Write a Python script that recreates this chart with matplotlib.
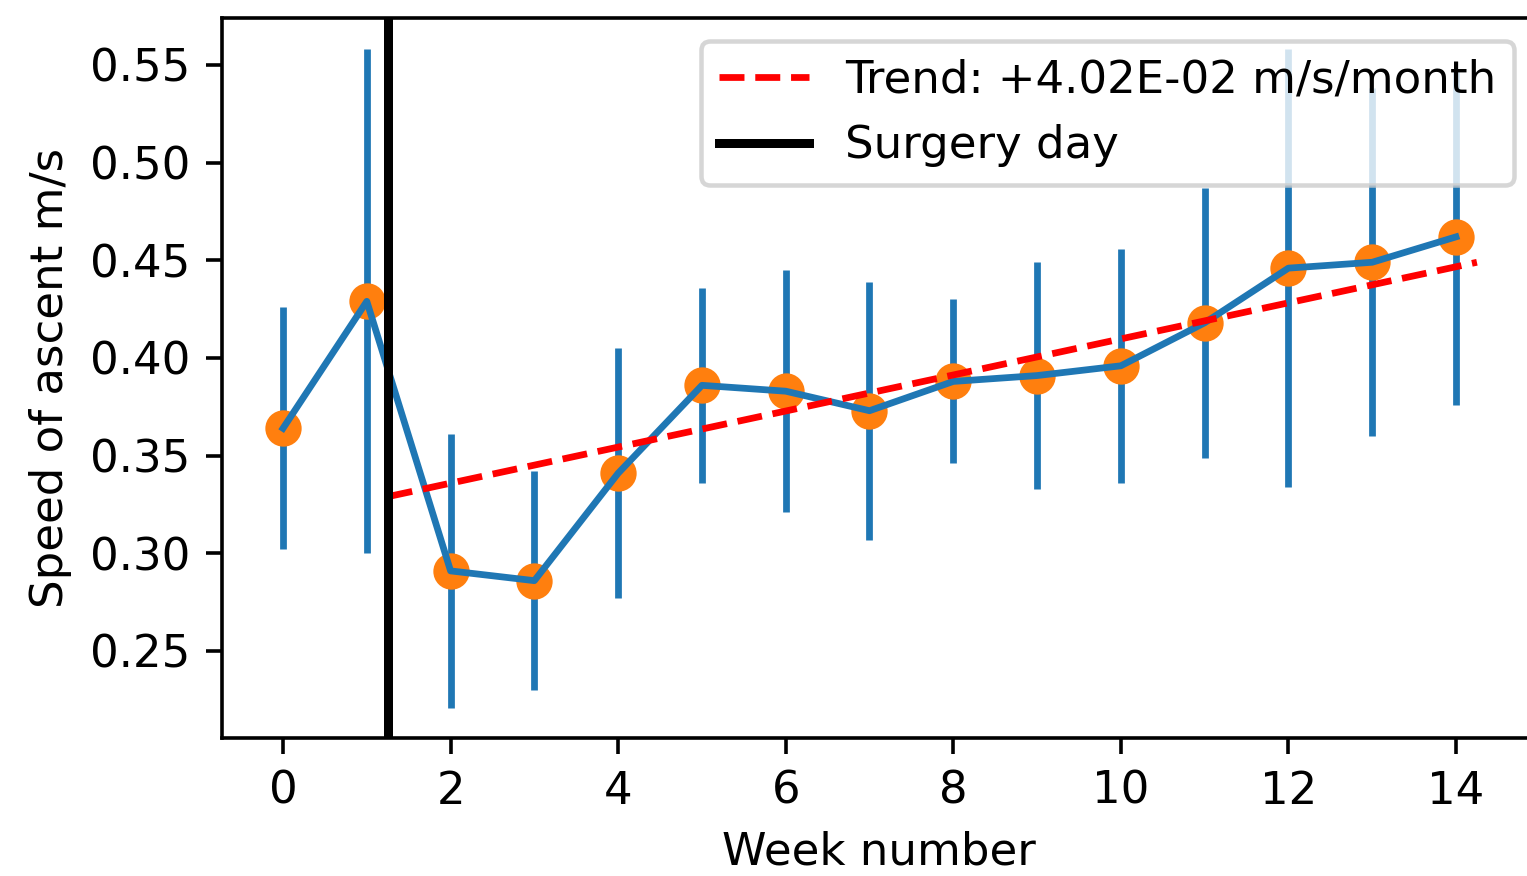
import numpy as np
import matplotlib
matplotlib.use("Agg")
import matplotlib.pyplot as plt

# weekly speed of ascent (mean and std)
weeks = [0, 1, 2, 3, 4, 5, 6, 7, 8, 9, 10, 11, 12, 13, 14]
speed = [0.364, 0.429, 0.291, 0.286, 0.341, 0.386, 0.383, 0.373,
         0.388, 0.391, 0.396, 0.418, 0.446, 0.449, 0.462]
speed_std = [0.062, 0.129, 0.070, 0.056, 0.064, 0.050, 0.062, 0.066,
             0.042, 0.058, 0.060, 0.069, 0.112, 0.089, 0.086]

# trend after surgery
trend_x = [1.25, 14.25]
trend_y = [0.329, 0.449]
trend_label = "Trend: +4.02E-02 m/s/month"

surgery_week = 1.25

W, H = 1528, 876
fig = plt.figure(figsize=(W / 324, H / 324), dpi=324)
ax = fig.add_axes([221.7 / W, 1 - 738.3 / H, (1536.4 - 221.7) / W, (738.3 - 18.3) / H])

ax.errorbar(weeks, speed, yerr=speed_std, fmt="none", ecolor="C0", elinewidth=1.5, zorder=1)
ax.scatter(weeks, speed, color="C1", s=50, zorder=2)
ax.plot(weeks, speed, color="C0", lw=1.5, zorder=3)
ax.plot(trend_x, trend_y, "r--", lw=1.5, label=trend_label, zorder=4)
ax.axvline(surgery_week, color="k", lw=2, label="Surgery day", zorder=5)

ax.set_xlim(-0.732, 14.96)
ax.set_ylim(0.2053, 0.5739)
ax.set_xticks(range(0, 15, 2))
ax.set_yticks([0.25, 0.30, 0.35, 0.40, 0.45, 0.50, 0.55])
ax.set_xlabel("Week number")
ax.set_ylabel("Speed of ascent m/s")
ax.legend(loc="upper right")

fig.savefig("out.png", dpi=324)
